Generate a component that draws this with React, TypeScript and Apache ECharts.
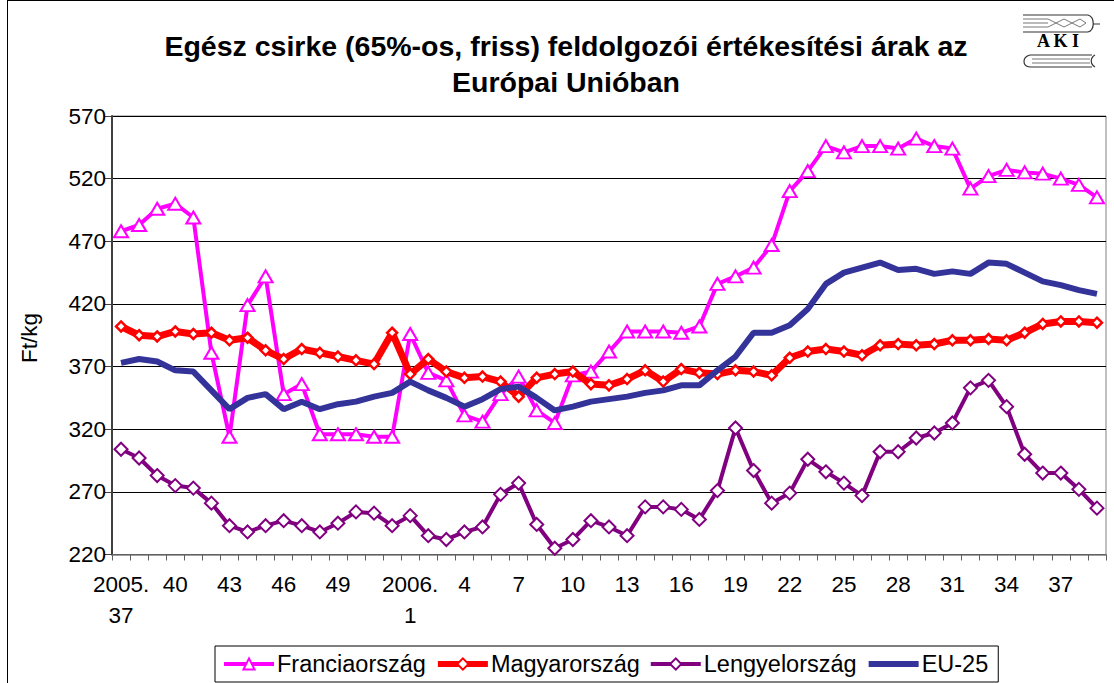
import React, { useEffect, useRef } from "react";
import * as echarts from "echarts";

const weeks2005 = [37, 38, 39, 40, 41, 42, 43, 44, 45, 46, 47, 48, 49, 50, 51, 52];
const weeks2006 = [1, 2, 3, 4, 5, 6, 7, 8, 9, 10, 11, 12, 13, 14, 15, 16, 17, 18, 19, 20, 21, 22, 23, 24, 25, 26, 27, 28, 29, 30, 31, 32, 33, 34, 35, 36, 37, 38, 39];

// categories that carry a tick label in the original chart
const labeledCategories = [
  "2005.37", "2005.40", "2005.43", "2005.46", "2005.49",
  "2006.1", "2006.4", "2006.7", "2006.10", "2006.13", "2006.16", "2006.19",
  "2006.22", "2006.25", "2006.28", "2006.31", "2006.34", "2006.37",
];

const franciaorszag = [478, 483, 496, 500, 489, 381, 314, 419, 442, 348, 356, 316, 316, 316, 314, 314, 396, 365, 359, 331, 326, 348, 362, 335, 325, 363, 366, 382, 398, 398, 398, 397, 402, 436, 442, 449, 467, 510, 526, 546, 541, 546, 546, 544, 552, 546, 544, 512, 522, 527, 525, 524, 520, 515, 505];
const magyarorszag = [402, 395, 394, 398, 396, 397, 391, 393, 383, 376, 384, 381, 378, 375, 372, 397, 364, 376, 366, 361, 362, 358, 346, 361, 364, 366, 356, 355, 360, 367, 358, 368, 365, 364, 367, 366, 363, 377, 382, 384, 382, 379, 387, 388, 387, 388, 391, 391, 392, 391, 397, 404, 406, 406, 405];
const lengyelorszag = [304, 297, 283, 275, 273, 261, 243, 238, 243, 247, 243, 238, 245, 254, 253, 243, 251, 235, 232, 238, 242, 268, 277, 244, 225, 232, 247, 242, 235, 258, 258, 256, 248, 271, 321, 287, 261, 269, 296, 286, 277, 267, 302, 302, 313, 317, 325, 353, 359, 338, 300, 285, 285, 272, 257];
const eu25 = [373, 376, 374, 367, 366, 351, 336, 345, 348, 336, 342, 336, 340, 342, 346, 349, 358, 351, 345, 338, 344, 352, 354, 345, 335, 338, 342, 344, 346, 349, 351, 355, 355, 367, 378, 397, 397, 403, 416, 436, 445, 449, 453, 447, 448, 444, 446, 444, 453, 452, 445, 438, 435, 431, 428];

const categories = [
  ...weeks2005.map((w) => "2005." + w),
  ...weeks2006.map((w) => "2006." + w),
];

const FONT = "'Liberation Sans', Arial, sans-serif";

export default function App() {
  const ref = useRef<HTMLDivElement>(null);
  useEffect(() => {
    if (!ref.current) return;
    const chart = echarts.init(ref.current, null, { renderer: "svg" });
    const gray = "#777777";
    chart.setOption({
      animation: false,
      backgroundColor: "#ffffff",
      textStyle: { fontFamily: FONT },
      grid: {
        left: 112,
        top: 116,
        width: 994,
        height: 438.5,
        show: true,
        borderColor: "#808080",
        borderWidth: 1,
        backgroundColor: "transparent",
      },
      xAxis: {
        type: "category",
        data: categories,
        boundaryGap: true,
        axisLine: { show: true, lineStyle: { color: "#808080", width: 1.5 } },
        axisTick: { show: true, interval: 0, length: 6, lineStyle: { color: "#606060" } },
        axisLabel: {
          interval: (_i: number, v: string) => labeledCategories.indexOf(v) >= 0,
          fontSize: 22.5,
          fontFamily: FONT,
          color: "#000",
          lineHeight: 31,
          margin: 14,
          formatter: (v: string) => {
            const [y, w] = v.split(".");
            if (v === categories[0] || w === "1") return y + ".\n" + w;
            return w;
          },
        },
        splitLine: { show: false },
      },
      yAxis: {
        type: "value",
        min: 220,
        max: 570,
        interval: 50,
        axisLine: { show: true, lineStyle: { color: "#404040", width: 2 } },
        axisTick: { show: true, length: 8, lineStyle: { color: "#404040" } },
        axisLabel: { fontSize: 22.5, fontFamily: FONT, color: "#000", margin: 6 },
        splitLine: { show: true, lineStyle: { color: "#000", width: 1 } },
      },
      legend: {
        left: 215,
        top: 646,
        orient: "horizontal",
        itemWidth: 50,
        itemHeight: 14,
        itemGap: 9,
        padding: [6, 10, 6, 7],
        borderColor: "#000",
        borderWidth: 1,
        backgroundColor: "#fff",
        textStyle: { fontSize: 23.5, fontFamily: FONT, color: "#000", padding: [0, 0, 0, -2] },
        data: [
          { name: "Franciaország", lineStyle: { width: 4, color: "#FF00FF" } },
          { name: "Magyarország", lineStyle: { width: 6, color: "#FF0000" } },
          { name: "Lengyelország", lineStyle: { width: 4, color: "#800080" } },
          {
            name: "EU-25",
            lineStyle: { width: 6, color: "#333399" },
            itemStyle: { color: "rgba(0,0,0,0)", borderColor: "rgba(0,0,0,0)", borderWidth: 0 },
          },
        ],
      },
      graphic: [
        { type: "line", shape: { x1: 7.5, y1: 0, x2: 7.5, y2: 683 }, style: { stroke: "#000", lineWidth: 1 } },
        { type: "line", shape: { x1: 7, y1: 0.5, x2: 1114, y2: 0.5 }, style: { stroke: "#000", lineWidth: 1 } },
        {
          type: "text",
          x: 566,
          y: 46,
          style: {
            text: "Egész csirke (65%-os, friss) feldolgozói értékesítési árak az",
            font: "bold 28.5px " + FONT,
            fill: "#000",
            align: "center",
            verticalAlign: "middle",
          },
        },
        {
          type: "text",
          x: 566,
          y: 82,
          style: {
            text: "Európai Unióban",
            font: "bold 28.5px " + FONT,
            fill: "#000",
            align: "center",
            verticalAlign: "middle",
          },
        },
        {
          type: "text",
          x: 29,
          y: 338,
          rotation: Math.PI / 2,
          style: {
            text: "Ft/kg",
            font: "22.5px " + FONT,
            fill: "#000",
            align: "center",
            verticalAlign: "middle",
          },
        },
        // AKI logo
        {
          type: "group",
          children: [
            { type: "line", shape: { x1: 1023, y1: 15, x2: 1088, y2: 15 }, style: { stroke: "#333", lineWidth: 1.2 } },
            { type: "line", shape: { x1: 1023, y1: 32, x2: 1088, y2: 32 }, style: { stroke: "#333", lineWidth: 1.2 } },
            { type: "line", shape: { x1: 1023, y1: 19, x2: 1048, y2: 19 }, style: { stroke: gray, lineWidth: 1 } },
            { type: "line", shape: { x1: 1023, y1: 23, x2: 1048, y2: 23 }, style: { stroke: gray, lineWidth: 1 } },
            { type: "line", shape: { x1: 1023, y1: 27, x2: 1048, y2: 27 }, style: { stroke: gray, lineWidth: 1 } },
            {
              type: "polyline",
              shape: { points: [[1048, 19], [1056, 23], [1064, 19], [1072, 23], [1080, 19], [1086, 23]] },
              style: { stroke: gray, lineWidth: 1, fill: "none" },
            },
            {
              type: "polyline",
              shape: { points: [[1048, 27], [1056, 23], [1064, 27], [1072, 23], [1080, 27], [1086, 23]] },
              style: { stroke: gray, lineWidth: 1, fill: "none" },
            },
            {
              type: "bezierCurve",
              shape: { x1: 1088, y1: 15, cpx1: 1095, cpy1: 17, cpx2: 1095, cpy2: 30, x2: 1088, y2: 32 },
              style: { stroke: "#333", lineWidth: 1.2, fill: "none" },
            },
            { type: "line", shape: { x1: 1093, y1: 24, x2: 1100, y2: 24 }, style: { stroke: "#333", lineWidth: 1 } },
            {
              type: "text",
              x: 1058,
              y: 41,
              style: {
                text: "A K I",
                font: "bold 18px 'Liberation Serif', 'DejaVu Serif', serif",
                fill: "#000",
                align: "center",
                verticalAlign: "middle",
              },
            },
            { type: "line", shape: { x1: 1030, y1: 55, x2: 1092, y2: 55 }, style: { stroke: "#333", lineWidth: 1.2 } },
            { type: "line", shape: { x1: 1030, y1: 67, x2: 1092, y2: 67 }, style: { stroke: "#333", lineWidth: 1.2 } },
            { type: "line", shape: { x1: 1032, y1: 59, x2: 1090, y2: 59 }, style: { stroke: gray, lineWidth: 1 } },
            { type: "line", shape: { x1: 1032, y1: 63, x2: 1090, y2: 63 }, style: { stroke: gray, lineWidth: 1 } },
            {
              type: "bezierCurve",
              shape: { x1: 1030, y1: 55, cpx1: 1022, cpy1: 57, cpx2: 1022, cpy2: 66, x2: 1030, y2: 67 },
              style: { stroke: "#333", lineWidth: 1.2, fill: "none" },
            },
            {
              type: "bezierCurve",
              shape: { x1: 1095, y1: 55, cpx1: 1090, cpy1: 58, cpx2: 1090, cpy2: 64, x2: 1095, y2: 67 },
              style: { stroke: "#333", lineWidth: 1.2, fill: "none" },
            },
          ],
        },
      ],
      series: [
        {
          name: "Franciaország",
          type: "line",
          data: franciaorszag,
          symbol: "triangle",
          symbolSize: [14, 12],
          showAllSymbol: true,
          lineStyle: { color: "#FF00FF", width: 4 },
          itemStyle: { color: "#ffffff", borderColor: "#FF00FF", borderWidth: 2 },
          z: 2,
        },
        {
          name: "Magyarország",
          type: "line",
          data: magyarorszag,
          symbol: "diamond",
          symbolSize: 10,
          showAllSymbol: true,
          lineStyle: { color: "#FF0000", width: 7 },
          itemStyle: { color: "#ffffff", borderColor: "#FF0000", borderWidth: 2.5 },
          z: 3,
        },
        {
          name: "Lengyelország",
          type: "line",
          data: lengyelorszag,
          symbol: "diamond",
          symbolSize: 13,
          showAllSymbol: true,
          lineStyle: { color: "#800080", width: 4 },
          itemStyle: { color: "#ffffff", borderColor: "#800080", borderWidth: 2 },
          z: 4,
        },
        {
          name: "EU-25",
          type: "line",
          data: eu25,
          symbol: "none",
          lineStyle: { color: "#333399", width: 6 },
          itemStyle: { color: "#333399" },
          z: 5,
        },
      ],
    });
    return () => chart.dispose();
  }, []);
  return (
    <div
      ref={ref}
      style={{ position: "fixed", left: 0, top: 0, width: 1114, height: 683, background: "#fff" }}
    />
  );
}
